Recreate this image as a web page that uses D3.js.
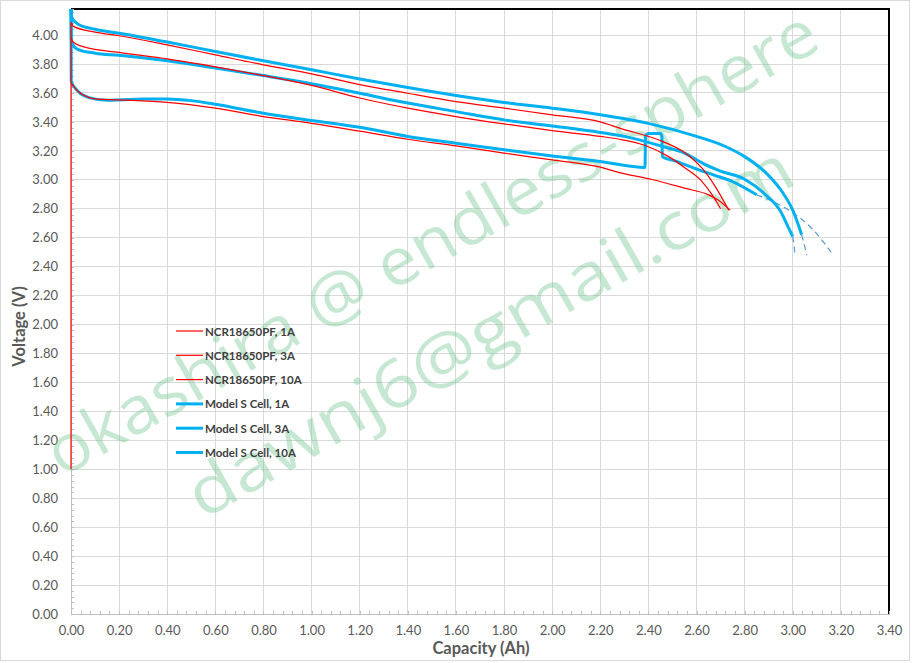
<!DOCTYPE html>
<html><head><meta charset="utf-8">
<script src="https://cdn.jsdelivr.net/npm/d3@7"></script>
<style>body{margin:0;background:#fff}svg{display:block}</style>
</head><body>
<svg id="chart" width="912" height="663"></svg>
<script>
// ---- data (capacity Ah, voltage V) ----
const ncr1A = [[0,1.0],[0.0001,4.086],[0.01,4.06],[0.1,4.02],[0.2,3.995],[0.4,3.932],[0.6,3.863],[0.8,3.794],[1.0,3.732],[1.2,3.658],[1.4,3.598],[1.6,3.54],[1.8,3.495],[2.0,3.449],[2.2,3.40],[2.28,3.357],[2.46,3.264],[2.554,3.184],[2.623,3.08],[2.678,2.953],[2.734,2.79]];
const ncr3A = [[0,3.98],[0.01,3.95],[0.05,3.92],[0.2,3.88],[0.4,3.835],[0.6,3.78],[0.8,3.72],[1.0,3.652],[1.2,3.565],[1.4,3.495],[1.6,3.437],[1.8,3.386],[2.0,3.34],[2.2,3.30],[2.28,3.28],[2.39,3.235],[2.484,3.16],[2.554,3.08],[2.623,2.988],[2.665,2.896],[2.70,2.80]];
const ncr10A = [[0,3.67],[0.03,3.61],[0.075,3.568],[0.1,3.559],[0.2,3.552],[0.4,3.535],[0.6,3.495],[0.8,3.437],[1.0,3.39],[1.2,3.336],[1.4,3.28],[1.6,3.234],[1.8,3.184],[2.0,3.137],[2.2,3.087],[2.28,3.05],[2.42,3.0],[2.55,2.942],[2.65,2.896],[2.69,2.86],[2.74,2.79]];
const modelS1A = [[0,4.18],[0.003,4.12],[0.03,4.075],[0.1,4.04],[0.2,4.013],[0.4,3.952],[0.6,3.886],[0.8,3.822],[1.0,3.76],[1.2,3.697],[1.4,3.637],[1.6,3.582],[1.8,3.534],[2.0,3.495],[2.2,3.45],[2.4,3.39],[2.6,3.30],[2.72,3.23],[2.8,3.16],[2.89,3.046],[2.96,2.907],[3.0,2.79],[3.037,2.62]];
const modelS3A = [[0,4.18],[0.002,3.95],[0.03,3.90],[0.1,3.875],[0.2,3.86],[0.4,3.822],[0.6,3.772],[0.8,3.72],[1.0,3.664],[1.2,3.598],[1.4,3.53],[1.6,3.471],[1.8,3.414],[2.0,3.372],[2.2,3.327],[2.3,3.30],[2.46,3.23],[2.55,3.185],[2.63,3.11],[2.7,3.06],[2.8,3.004],[2.88,2.907],[2.95,2.78],[2.98,2.677],[3.0,2.607]];
const modelS10A = [[0,4.18],[0.001,3.68],[0.03,3.61],[0.075,3.568],[0.15,3.55],[0.2,3.552],[0.3,3.559],[0.4,3.559],[0.5,3.547],[0.6,3.522],[0.8,3.46],[1.0,3.41],[1.2,3.363],[1.4,3.299],[1.6,3.253],[1.8,3.207],[2.0,3.165],[2.2,3.126],[2.386,3.085],[2.388,3.30],[2.40,3.32],[2.45,3.32],[2.456,3.30],[2.458,3.16],[2.52,3.126],[2.59,3.08],[2.67,3.034],[2.75,2.988],[2.85,2.896]];
const modelS1AExt = [[3.037,2.62],[3.048,2.55],[3.058,2.48]];
const modelS3AExt = [[3.0,2.607],[3.005,2.55],[3.009,2.49]];
const modelS10AExt = [[2.85,2.896],[2.93,2.84],[3.0,2.773],[3.085,2.654],[3.168,2.48]];
const seriesNames = ["NCR18650PF, 1A","NCR18650PF, 3A","NCR18650PF, 10A","Model S Cell, 1A","Model S Cell, 3A","Model S Cell, 10A"];
const seriesData = [ncr1A, ncr3A, ncr10A, modelS1A, modelS3A, modelS10A];
const seriesKind = ["ncr","ncr","ncr","s","s","s"];
const extData = [modelS1AExt, modelS3AExt, modelS10AExt];
const xTicks = d3.range(0, 3.4001, 0.2);
const yTicks = d3.range(0, 4.0001, 0.2);
const minorX = d3.range(0, 3.4001, 0.04);
const minorY = d3.range(0, 4.1801, 0.04);
const xTitle = "Capacity (Ah)";
const yTitle = "Voltage (V)";
const watermark1 = "okashira @ endless-sphere";
const watermark2 = "dawnj6@gmail.com";

// ---- drawing ----
const svg = d3.select("#chart");
const L=71, R=889, T=9, B=614;
const x = d3.scaleLinear().domain([0,3.4]).range([L,R]);
const y = d3.scaleLinear().domain([0,4.18]).range([B,T]);
const font = "Lato, 'Open Sans', sans-serif";
const style = {ncr:{c:"#ff0000",w:1.2}, s:{c:"#00b0f0",w:3}};

svg.append("rect").attr("x",0.5).attr("y",0.5).attr("width",909).attr("height",660)
  .attr("fill","#fff").attr("stroke","#d9d9d9");

// gridlines
svg.append("g").selectAll("line").data(xTicks.slice(1,-1)).join("line")
  .attr("x1",d=>x(d)).attr("x2",d=>x(d)).attr("y1",T).attr("y2",B)
  .attr("stroke","#d9d9d9").attr("shape-rendering","crispEdges");
svg.append("g").selectAll("line").data(yTicks.slice(1)).join("line")
  .attr("x1",L).attr("x2",R).attr("y1",d=>y(d)).attr("y2",d=>y(d))
  .attr("stroke","#d9d9d9").attr("shape-rendering","crispEdges");

// plot border top/right
svg.append("path").attr("d",`M${L},${T}H${R}V${B}`).attr("fill","none")
  .attr("stroke","#000").attr("stroke-width",1.2).attr("shape-rendering","crispEdges");

// axes
const fmt = d3.format(".2f");
const gx = svg.append("g").attr("transform",`translate(0,${B})`)
  .call(d3.axisBottom(x).tickValues(minorX).tickSize(-3).tickFormat(""));
const gxl = svg.append("g").attr("transform",`translate(0,${B})`)
  .call(d3.axisBottom(x).tickValues(xTicks).tickSize(0).tickPadding(12).tickFormat(fmt));
const gy = svg.append("g").attr("transform",`translate(${L},0)`)
  .call(d3.axisLeft(y).tickValues(minorY).tickSize(-3).tickFormat(""));
const gyl = svg.append("g").attr("transform",`translate(${L},0)`)
  .call(d3.axisLeft(y).tickValues(yTicks).tickSize(0).tickPadding(13).tickFormat(fmt));
[gx,gy,gxl,gyl].forEach(g=>{
  g.selectAll("path,line").attr("stroke","#bfbfbf").attr("shape-rendering","crispEdges");
  g.selectAll("text").attr("fill","#595959").attr("font-size",13).attr("font-family",font);
});
gyl.select(".domain").remove(); gxl.select(".domain").remove();

// watermark
const wm = svg.append("g").attr("fill","rgba(120,200,150,0.42)").attr("font-family","'Open Sans', sans-serif");
wm.append("text").attr("transform","translate(62,478) rotate(-29.5)")
  .attr("font-size",66).attr("textLength",875).attr("lengthAdjust","spacingAndGlyphs").text(watermark1);
wm.append("text").attr("transform","translate(203,520) rotate(-29.5)")
  .attr("font-size",66).attr("textLength",685).attr("lengthAdjust","spacingAndGlyphs").text(watermark2);

// series
const line = d3.line().x(d=>x(d[0])).y(d=>y(d[1])).curve(d3.curveMonotoneX);
svg.append("g").selectAll("path.ext").data(extData).join("path")
  .attr("d",line).attr("fill","none").attr("stroke","#5b9bd5").attr("stroke-width",1.2)
  .attr("stroke-dasharray","6,4");
const order = [3,4,5,0,1,2];
svg.append("g").selectAll("path.s").data(order).join("path")
  .attr("d",i=>line(seriesData[i])).attr("fill","none")
  .attr("stroke",i=>style[seriesKind[i]].c).attr("stroke-width",i=>style[seriesKind[i]].w)
  .attr("stroke-linejoin","round");

// legend
const lg = svg.append("g");
seriesNames.forEach((n,i)=>{
  const yy = 331 + i*24.3;
  const st = style[seriesKind[i]];
  lg.append("line").attr("x1",176).attr("x2",203).attr("y1",yy).attr("y2",yy)
    .attr("stroke",st.c).attr("stroke-width",st.w);
  lg.append("text").attr("x",205).attr("y",yy+4.5).attr("font-family",font)
    .attr("font-weight","bold").attr("font-size",11.5).attr("fill","#404040").text(n);
});

// axis titles
svg.append("text").attr("x",481).attr("y",654).attr("text-anchor","middle")
  .attr("font-family",font).attr("font-weight","bold").attr("font-size",16.5).attr("fill","#595959").text(xTitle);
svg.append("text").attr("transform",`translate(25,${(T+B)/2+15}) rotate(-90)`).attr("text-anchor","middle")
  .attr("font-family",font).attr("font-weight","bold").attr("font-size",16.5).attr("fill","#595959").text(yTitle);
</script>
</body></html>
